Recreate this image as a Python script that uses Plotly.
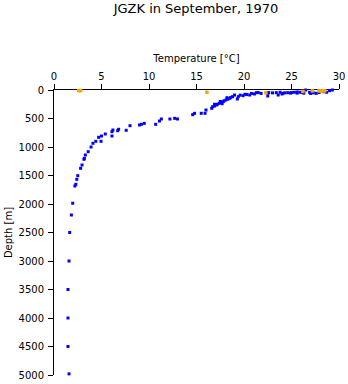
import plotly.graph_objects as go

# Blue CTD/bottle profile
blue_temp = [29.3, 29.0, 28.7, 28.4, 27.9, 27.6, 27.3, 26.9, 26.5, 26.1, 25.9, 25.6, 25.3, 25.0, 24.6,
             24.3, 24.1, 23.8, 23.6, 23.4, 23.0, 22.6, 22.5, 22.5, 21.5, 21.3, 21.1, 20.8, 20.6, 20.3,
             19.9, 19.6, 19.4, 19.0, 19.3, 18.8, 18.6, 18.5, 18.3, 18.1, 17.9, 17.8, 17.6, 17.4, 17.2,
             17.1, 16.9, 16.7, 16.6, 16.0, 15.9, 15.5, 14.8, 14.6,
             13.0, 12.7, 12.2, 11.3, 11.1, 10.7, 9.5, 9.2, 9.0, 8.0, 7.6, 6.8, 6.7, 6.2, 6.1, 6.1,
             5.4, 5.0, 4.7, 4.4, 4.95, 4.1, 3.9, 3.6, 3.3, 3.2, 3.15, 2.95, 2.8, 2.5, 2.4, 2.3, 2.2,
             1.97, 1.83, 1.65, 1.58, 1.47, 1.47, 1.47, 1.58,
             24.9, 25.6, 26.3, 27.0, 24.0, 21.8, 20.1, 18.2, 17.5, 16.9, 17.7]
blue_depth = [0, 12, 40, 30, 45, 58, 50, 40, 0, 45, 40, 35, 40, 45, 47,
              50, 58, 40, 88, 47, 50, 45, 105, 58, 45, 47, 70, 60, 88, 80,
              100, 90, 117, 88, 158, 117, 130, 146, 160, 175, 190, 205, 215, 234, 250,
              263, 280, 293, 321, 351, 409, 409, 409, 433,
              509, 497, 509, 509, 544, 602, 585, 602, 614, 626, 707, 689, 714, 702, 731, 807,
              772, 807, 830, 900, 900, 935, 1000, 1082, 1140, 1199, 1216, 1316, 1374, 1503, 1567, 1654, 1684,
              1987, 2193, 2500, 3000, 3500, 4000, 4500, 4980,
              55, 55, 55, 60, 70, 60, 75, 135, 200, 250, 240]

# Orange surface observations
orange_temp = [2.6, 2.8, 16.1, 22.3, 26.2, 27.2, 27.9, 28.1, 28.3, 28.5]
orange_depth = [10, 10, 40, 50, 25, 15, 15, 15, 15, 15]

font = "DejaVu Sans, Verdana, sans-serif"

fig = go.Figure()
fig.add_trace(go.Scatter(x=blue_temp, y=blue_depth, mode="markers", cliponaxis=False,
                         marker=dict(symbol="square", size=3, color="#0000ff", line=dict(width=0)),
                         showlegend=False, hoverinfo="skip"))
fig.add_trace(go.Scatter(x=orange_temp, y=orange_depth, mode="markers", cliponaxis=False,
                         marker=dict(symbol="square", size=3.5, color="#ffa500", line=dict(width=0)),
                         showlegend=False, hoverinfo="skip"))

fig.update_layout(
    width=348, height=384,
    margin=dict(l=54, r=9, t=90, b=9, autoexpand=False),
    paper_bgcolor="white", plot_bgcolor="white",
    font=dict(family=font, size=10, color="black"),
    title=dict(text="JGZK in September, 1970", x=196 / 348, xanchor="center", xref="container",
               y=1 - 8 / 384, yref="container", yanchor="middle", font=dict(size=13, family=font)),
    xaxis=dict(side="top", range=[0, 30], tickvals=[0, 5, 10, 15, 20, 25, 30],
               showgrid=False, zeroline=False, showline=True, linecolor="black", linewidth=1,
               ticks="outside", ticklen=5, tickcolor="black", automargin=False,
               layer="below traces",
               tickfont=dict(size=10, family=font),
               title=dict(text="Temperature [°C]", font=dict(size=10, family=font), standoff=6)),
    yaxis=dict(range=[5000, 0], tickvals=list(range(0, 5001, 500)),
               showgrid=False, zeroline=False, showline=True, linecolor="black", linewidth=1,
               ticks="outside", ticklen=5, tickcolor="black", automargin=False,
               layer="below traces", ticklabelstandoff=2,
               tickfont=dict(size=10, family=font),
               title=dict(text="Depth [m]", font=dict(size=10, family=font), standoff=4)),
)

fig.write_html("out.html")
